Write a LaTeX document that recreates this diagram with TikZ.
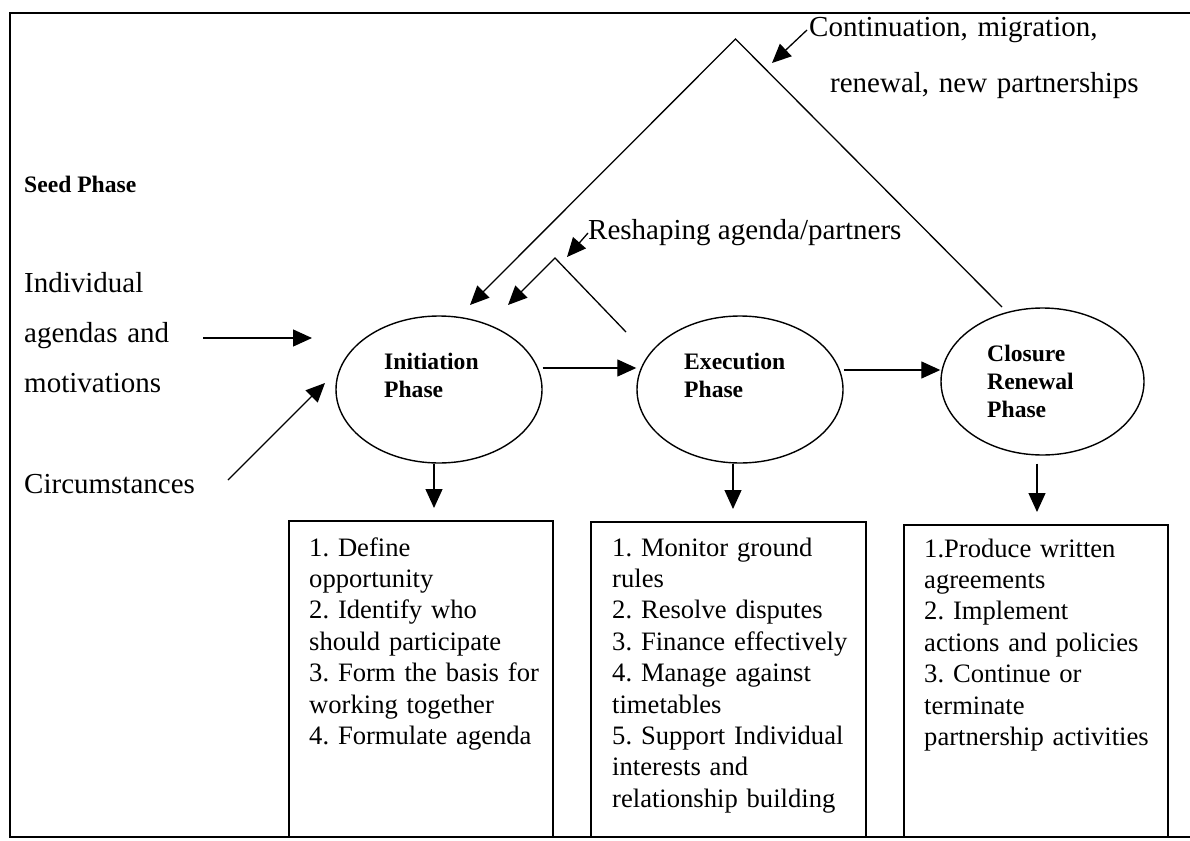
\documentclass[tikz,border=0pt]{standalone}
\usepackage{fontspec}
\setmainfont{Liberation Serif}
\usetikzlibrary{arrows.meta,shapes.geometric}
\frenchspacing
\begin{document}
\begin{tikzpicture}[x=1pt,y=-1pt,
  conn/.style={line width=1.3pt},
  arr/.style={conn,-{Triangle[length=19pt,width=17pt]}},
  phase/.style={draw,ellipse,line width=1.4pt,inner sep=0pt,minimum width=206pt,minimum height=147pt},
  phaselabel/.style={anchor=base west,inner sep=0pt,text width=130pt,align=left,
    font=\fontsize{23.6}{28}\selectfont\bfseries},
  taskbox/.style={draw,line width=1.5pt,anchor=north west,inner sep=0pt},
  tasktext/.style={anchor=base west,inner sep=0pt,text width=262pt,align=left,
    font=\fontsize{26.6}{31.4}\selectfont},
  side/.style={anchor=base west,inner sep=0pt,align=left,
    font=\fontsize{29}{50}\selectfont},
]
\useasboundingbox (0,0) rectangle (1190,840);

% outer frame
\draw[line width=2pt] (1190,13) -- (10,13) -- (10,837) -- (1190,837);

% phases
\node[phase] (init)  at (439,389.5) {};
\node[phase] (exec)  at (740,389.5) {};
\node[phase, minimum width=203pt] (close) at (1042.5,381.5) {};
\node[phaselabel] (init-label)  at (384,369) {Initiation\\Phase};
\node[phaselabel] (exec-label)  at (684,369) {Execution\\Phase};
\node[phaselabel] (close-label) at (987,361) {Closure\\Renewal\\Phase};

% task boxes
\node[taskbox, minimum width=264pt, minimum height=316pt] (ibox) at (288,520) {};
\node[taskbox, minimum width=275pt, minimum height=315pt] (ebox) at (590,521) {};
\node[taskbox, minimum width=264pt, minimum height=312pt] (cbox) at (903,524) {};

\node[tasktext] (itasks) at (309,556) {1. Define\\opportunity\\2. Identify who\\should participate\\3. Form the basis for\\working together\\4. Formulate agenda};
\node[tasktext] (etasks) at (612,556) {1. Monitor ground\\rules\\2. Resolve disputes\\3. Finance effectively\\4. Manage against\\timetables\\5. Support Individual\\interests and\\relationship building};
\node[tasktext] (ctasks) at (924,557) {1.Produce written\\agreements\\2. Implement\\actions and policies\\3. Continue or\\terminate\\partnership activities};

% side labels
\node[anchor=base west,inner sep=0pt,font=\fontsize{23.6}{28}\selectfont\bfseries] (seed) at (24,192) {Seed Phase};
\node[side, text width=180pt] (motives) at (24,292) {Individual\\agendas and\\motivations};
\node[side] (circ) at (24,493) {Circumstances};

% top labels
\node[side, text width=360pt, font=\fontsize{29}{56}\selectfont] (cont) at (809,37) {Continuation, migration,\\\hspace*{21pt}renewal, new partnerships};
\node[side] (reshape) at (588,239) {Reshaping agenda/partners};

% free ends of the feedback lines
\coordinate (m-start) at (203,338);
\coordinate (m-end)   at (312,338);
\coordinate (c-start) at (228,480);
\coordinate (c-end)   at (325,383);
\coordinate (big-foot) at (1002,307);
\coordinate (big-top)  at (735.5,39);
\coordinate (big-end)  at (470,305);
\coordinate (sm-foot)  at (626,332);
\coordinate (sm-top)   at (555,258);
\coordinate (sm-end)   at (508,305);
\coordinate (cont-from) at (807,30);
\coordinate (cont-to)   at (772,63);
\coordinate (resh-from) at (588,233);
\coordinate (resh-to)   at (567,257);

% inputs
\draw[arr] (m-start) -- (m-end);
\draw[arr] (c-start) -- (c-end);

% phase sequence
\draw[arr] ([yshift=21.5pt]init.east) -- ([yshift=21.5pt]exec.west);
\draw[arr] ([yshift=19.5pt]exec.east) -- ([yshift=11.5pt]close.west);

% phase to tasks
\draw[arr,shorten >=12pt] ([xshift=-5pt]init.south) -- ([xshift=-5pt]init.south |- ibox.north);
\draw[arr,shorten >=12pt] ([xshift=-7pt]exec.south) -- ([xshift=-7pt]exec.south |- ebox.north);
\draw[arr,shorten >=12pt] ([xshift=-5.5pt,yshift=-8pt]close.south) -- ([xshift=-5.5pt]close.south |- cbox.north);

% feedback loops
\draw[arr] (big-foot) -- (big-top) -- (big-end);
\draw[arr] (sm-foot) -- (sm-top) -- (sm-end);
\draw[arr] (cont-from) -- (cont-to);
\draw[arr] (resh-from) -- (resh-to);
\end{tikzpicture}
\end{document}
